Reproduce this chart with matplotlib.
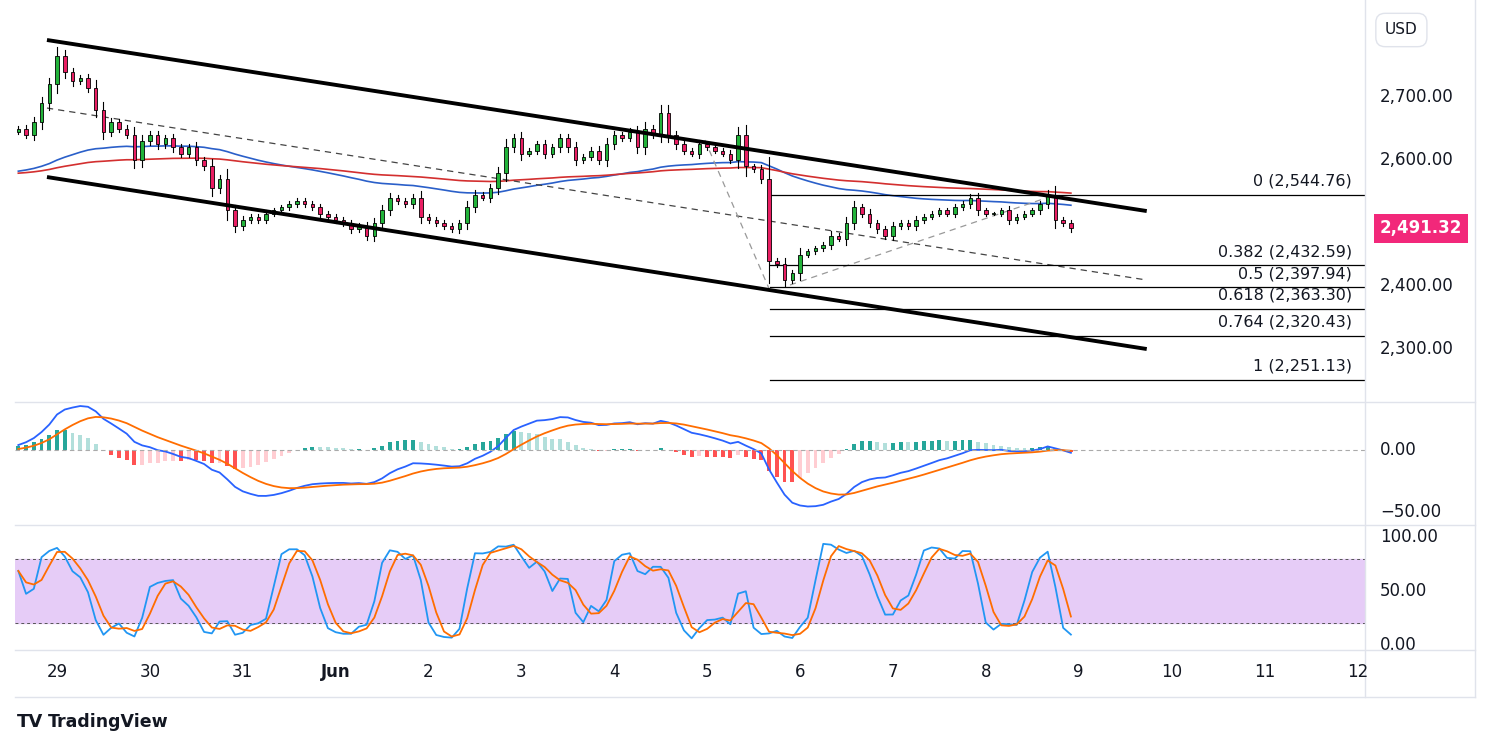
import numpy as np
import matplotlib
matplotlib.use("Agg")
import matplotlib.pyplot as plt
from matplotlib.lines import Line2D

# ---------------- data ----------------
start_index = -5  # candle index of first bar (2h bars, index 0 = May 29 00:00)
closes = [2650, 2640, 2660, 2690, 2720,
          2765, 2740, 2725, 2730, 2715, 2680, 2645, 2660, 2650, 2640, 2600, 2630,
          2640, 2625, 2635, 2620, 2610, 2620, 2600, 2590, 2555, 2570, 2520, 2495,
          2505, 2510, 2505, 2515, 2520, 2525, 2530, 2535, 2530, 2525, 2515, 2510,
          2505, 2500, 2490, 2495, 2480, 2500, 2520, 2540, 2535, 2530, 2540, 2510,
          2505, 2500, 2495, 2490, 2500, 2525, 2545, 2540, 2555, 2580, 2620, 2635,
          2610, 2615, 2625, 2610, 2620, 2635, 2620, 2600, 2605, 2615, 2600, 2625,
          2640, 2635, 2645, 2620, 2650, 2640, 2675, 2640, 2625, 2615, 2610, 2625,
          2620, 2615, 2610, 2600, 2640, 2590, 2585, 2570, 2440, 2435, 2410, 2420,
          2450, 2455, 2460, 2465, 2480, 2475, 2500, 2525, 2515, 2500, 2490, 2480,
          2495, 2500, 2495, 2505, 2510, 2515, 2520, 2515, 2525, 2530, 2540, 2520,
          2515, 2515, 2520, 2505, 2510, 2515, 2520, 2530, 2545, 2505, 2500, 2491.32]
first_open = 2645
day_labels = ["29", "30", "31", "Jun", "2", "3", "4", "5", "6", "7", "8", "9", "10", "11", "12"]
price_ticks = [2300, 2400, 2600, 2700]
fib_ratios = ["0", "0.382", "0.5", "0.618", "0.764", "1"]
fib_prices = [2544.76, 2432.59, 2397.94, 2363.30, 2320.43, 2251.13]
last_price = 2491.32
channel_upper = [(-1.3, 2790.5), (140.8, 2519.0)]
channel_lower = [(-1.3, 2573.0), (140.8, 2300.0)]
channel_mid = [(-1.3, 2682.5), (140.8, 2409.5)]
fib_trend = [(83.7, 2631.7), (92.1, 2393.0), (94.7, 2401.6), (128.9, 2544.4)]
fib_start = 92.1

# ---------------- derived ----------------
c = np.array(closes, float)
o = np.concatenate([[first_open], c[:-1]])
n = len(c)
x = np.arange(start_index, start_index + n)
body = np.abs(c - o)
hi = np.maximum(o, c) + 3 + 0.25 * body
lo = np.minimum(o, c) - 3 - 0.25 * body

def ema(v, span, seed):
    a = 2 / (span + 1)
    out = np.empty_like(v)
    prev = seed
    for i, val in enumerate(v):
        prev = a * val + (1 - a) * prev
        out[i] = prev
    return out

ma_blue = ema(c, 60, 2580)
ma_red = ema(c, 130, 2578)
macd = ema(c, 12, 2600) - ema(c, 26, 2600)
sig = ema(macd, 9, 0)
hist = macd - sig

LB = 6
k_raw = np.array([(c[i] - lo[max(0, i-LB+1):i+1].min()) /
                  max(1e-9, hi[max(0, i-LB+1):i+1].max() - lo[max(0, i-LB+1):i+1].min()) * 100
                  for i in range(n)])
def sma(v, w):
    return np.array([v[max(0, i-w+1):i+1].mean() for i in range(len(v))])
k = sma(k_raw, 2)
d = sma(k, 3)

# ---------------- figure ----------------
W, H = 1491, 750
fig = plt.figure(figsize=(W/100, H/100), dpi=100)
L, R = 15/W, 1365/W
def pane(y0, y1):
    return fig.add_axes([L, 1 - y1/H, R - L, (y1 - y0)/H])
ax = pane(0, 402)
axm = pane(402, 525)
axs = pane(525, 650)
xlim = (-5.43, 169.0)
for a in (ax, axm, axs):
    a.set_xlim(*xlim)
    a.set_xticks([]); a.set_yticks([])
    for s in a.spines.values():
        s.set_visible(False)
ax.set_ylim(2215.9, 2854)
axm.set_ylim(-60.5, 38.7)
axs.set_ylim(-4.6, 111)

GREEN, PINK = "#22b33a", "#e91e63"
for xi, oi, ci, h, l in zip(x, o, c, hi, lo):
    ax.plot([xi, xi], [l, h], color="black", lw=0.8, zorder=3)
    b = max(abs(ci - oi), 0.8)
    ax.bar(xi, b, bottom=min(oi, ci), width=0.45, color=GREEN if ci >= oi else PINK,
           edgecolor="black", linewidth=0.6, zorder=4)
ax.plot(x, ma_blue, color="#2a5fc9", lw=1.2, zorder=2)
ax.plot(x, ma_red, color="#d32f2f", lw=1.2, zorder=2)
for ln in (channel_upper, channel_lower):
    ax.plot(*zip(*ln), color="black", lw=2.8, zorder=5, solid_capstyle="butt")
ax.plot(*zip(*channel_mid), color="#444", lw=0.9, ls=(0, (5, 4)), zorder=2)
ax.plot(*zip(*fib_trend[:2]), color="#999", lw=0.9, ls=(0, (5, 4)), zorder=2)
ax.plot(*zip(*fib_trend[2:]), color="#999", lw=0.9, ls=(0, (5, 4)), zorder=2)
for r, p in zip(fib_ratios, fib_prices):
    ax.plot([fib_start, xlim[1]], [p, p], color="black", lw=0.9, zorder=2)
    ax.text(167.3, p + 10, f"{r} ({p:,.2f})", ha="right", va="bottom", fontsize=11.5, color="#131722")

tr = ax.get_yaxis_transform()
for p in price_ticks:
    ax.text(1.011, p, f"{p:,.2f}", transform=tr, ha="left", va="center", fontsize=12, color="#131722", clip_on=False)
ax.text(1.011, last_price, f"{last_price:,.2f}", transform=tr, ha="left", va="center", fontsize=12,
        color="white", fontweight="bold", clip_on=False,
        bbox=dict(boxstyle="square,pad=0.35", fc="#f2287a", ec="none"))
fig.text(1385/W, 1 - 30/H, "USD", fontsize=11, ha="left", va="center", color="#131722",
         bbox=dict(boxstyle="round,pad=0.6", fc="white", ec="#e0e3eb"))

# MACD
hc = []
for i, hv in enumerate(hist):
    prev = hist[i-1] if i else hv
    if hv >= 0:
        hc.append("#26a69a" if hv >= prev else "#b2dfdb")
    else:
        hc.append("#ff5252" if hv < prev else "#ffcdd2")
axm.bar(x, hist, width=0.5, color=hc)
axm.plot(x, macd, color="#2962ff", lw=1.3)
axm.plot(x, sig, color="#ff6d00", lw=1.3)
axm.axhline(0, color="#aaa", lw=0.8, ls=(0, (4, 3)))
trm = axm.get_yaxis_transform()
for p, s in [(0, "0.00"), (-50, "\u221250.00")]:
    axm.text(1.011, p, s, transform=trm, ha="left", va="center", fontsize=12, color="#131722", clip_on=False)

# Stoch
axs.axhspan(20, 80, color="#e6ccf7", zorder=0)
axs.axhline(80, color="#555", lw=0.7, ls=(0, (3, 3)))
axs.axhline(20, color="#555", lw=0.7, ls=(0, (3, 3)))
axs.plot(x, k, color="#2196f3", lw=1.3)
axs.plot(x, d, color="#ff6d00", lw=1.3)
trs = axs.get_yaxis_transform()
for p in [0, 50, 100]:
    axs.text(1.011, p, f"{p:.2f}" if p else "0.00", transform=trs, ha="left", va="center",
             fontsize=12, color="#131722", clip_on=False)

for i, lab in enumerate(day_labels):
    xp = 57 + i * 12 * 7.74
    fig.text(xp / W, 1 - 672/H, lab, ha="center", va="center", fontsize=12, color="#131722",
             fontweight="bold" if lab == "Jun" else "normal")

for yy in (402, 525, 650, 697):
    fig.add_artist(Line2D([L, 1475/W], [1 - yy/H] * 2, color="#e0e3eb", lw=1))
fig.add_artist(Line2D([R, R], [1 - 697/H, 1], color="#e0e3eb", lw=1))
fig.add_artist(Line2D([1475/W, 1475/W], [1 - 697/H, 1], color="#e0e3eb", lw=1))
fig.text(17/W, 1 - 722/H, "TV", fontsize=13, fontweight="bold", color="#131722", va="center")
fig.text(48/W, 1 - 722/H, "TradingView", fontsize=12.5, fontweight="bold", color="#131722", va="center")

fig.savefig("out.png", dpi=100)
